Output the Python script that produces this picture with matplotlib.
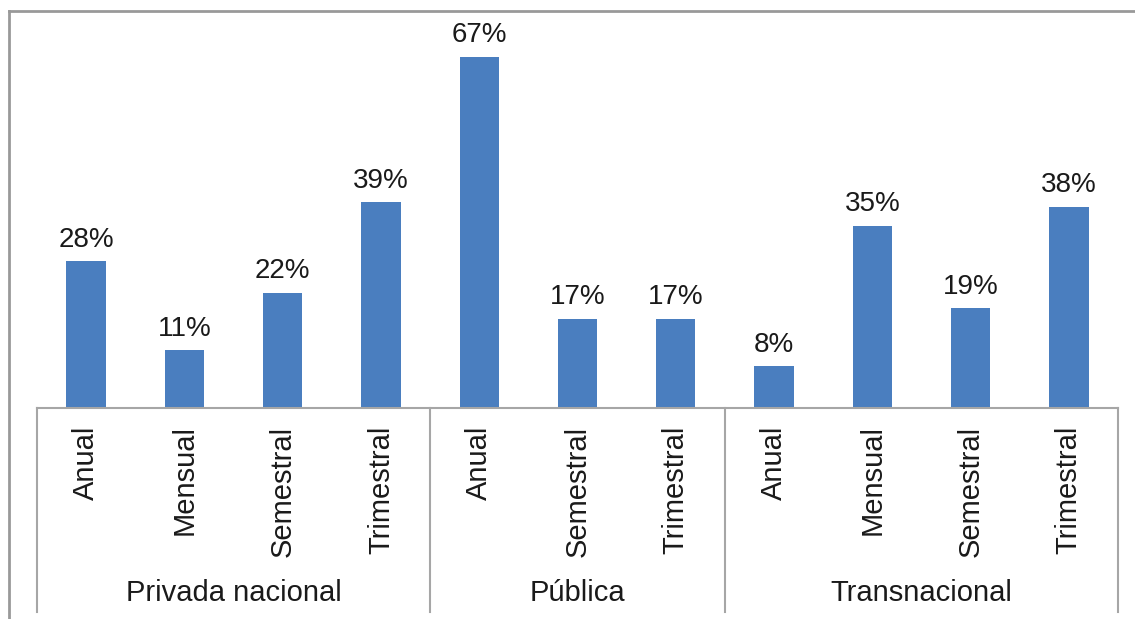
import matplotlib.pyplot as plt
from matplotlib.lines import Line2D

plt.rcParams['font.family'] = ['Liberation Sans', 'DejaVu Sans']

groups = ['Privada nacional', 'Pública', 'Transnacional']
periods = [
    ['Anual', 'Mensual', 'Semestral', 'Trimestral'],
    ['Anual', 'Semestral', 'Trimestral'],
    ['Anual', 'Mensual', 'Semestral', 'Trimestral'],
]
values = [
    [28, 11, 22, 39.2],
    [67, 17, 17],
    [8, 34.8, 19, 38.4],
]

bar_color = '#4A7EBF'
line_color = '#A6A6A6'
text_color = '#1a1a1a'

W, H = 1135, 619
fig = plt.figure(figsize=(W / 100, H / 100), dpi=100)
left, right, base, top = 37, 1118, 408, 20
ax = fig.add_axes([left / W, (H - base) / H, (right - left) / W, (base - top) / H])

labels = []
heights = []
for per, vals in zip(periods, values):
    labels += per
    heights += vals
xs = list(range(len(heights)))

ax.bar(xs, heights, width=0.4, color=bar_color)
for x, v in zip(xs, heights):
    ax.text(x, v + 1.6, '{0:.0f}%'.format(v), ha='center', va='bottom', fontsize=20, color=text_color)

ax.set_xlim(-0.5, len(xs) - 0.5)
ax.set_ylim(0, 74)
ax.set_xticks([])
ax.set_yticks([])
for s in ['left', 'right', 'top']:
    ax.spines[s].set_visible(False)
ax.spines['bottom'].set_color(line_color)
ax.spines['bottom'].set_linewidth(1.5)

tr = ax.get_xaxis_transform()
# category labels (rotated)
for x, lab in zip(xs, labels):
    ax.text(x, -0.045, lab, rotation=90, ha='center', va='top', fontsize=21,
            color=text_color, transform=tr, clip_on=False)

# group separators and labels
bottom_y = (base - 612) / (base - top)
edges = [-0.5]
for per in periods:
    edges.append(edges[-1] + len(per))
for e in edges:
    ax.add_line(Line2D([e, e], [0, bottom_y], transform=tr, color=line_color,
                       lw=1.5, clip_on=False))
for g, a, b in zip(groups, edges[:-1], edges[1:]):
    ax.text((a + b) / 2, (base - 593) / (base - top), g, ha='center', va='center',
            fontsize=21, color=text_color, transform=tr, clip_on=False)

# outer frame (cropped at right and bottom)
fx, fy = 8.5 / W, 1 - 10.5 / H
fig.add_artist(Line2D([fx, fx], [0, fy], transform=fig.transFigure, color='#999999', lw=2))
fig.add_artist(Line2D([fx, 1], [fy, fy], transform=fig.transFigure, color='#999999', lw=2))

fig.savefig('out.png', dpi=100)
